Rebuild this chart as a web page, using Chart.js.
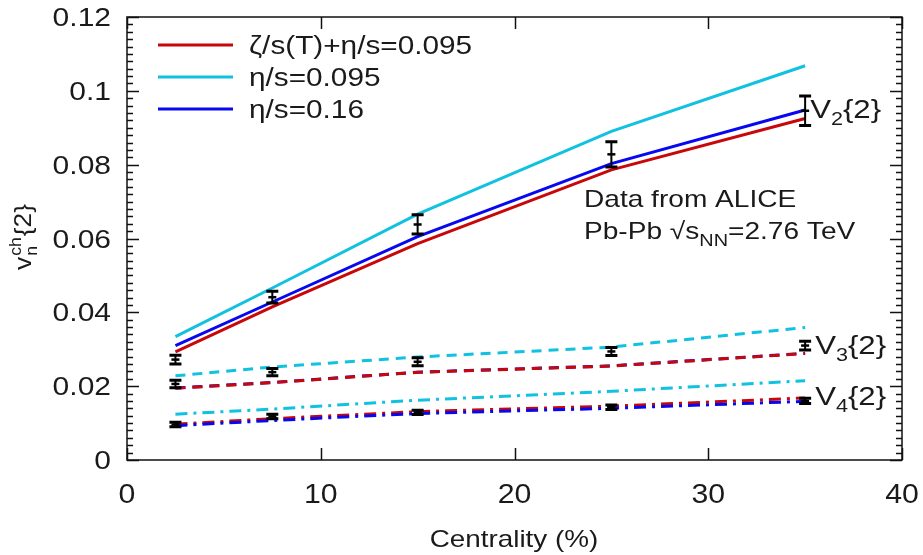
<!DOCTYPE html>
<html>
<head>
<meta charset="utf-8">
<script src="https://cdn.jsdelivr.net/npm/chart.js@4.4.1/dist/chart.umd.min.js"></script>
<style>
  body { margin: 0; background: #fff; }
  #wrap { width: 923px; height: 555px; }
</style>
</head>
<body>
<div id="wrap"><canvas id="flowChart" width="923" height="555"></canvas></div>
<script>
// centrality bins (%)
var centrality = [2.5, 7.5, 15, 25, 35];

// v2{2} curves
var v2Bulk   = [0.0293, 0.0415, 0.0586, 0.0786, 0.0925];
var v2Eta095 = [0.0334, 0.0466, 0.0666, 0.0890, 0.1068];
var v2Eta016 = [0.0310, 0.0428, 0.0605, 0.0803, 0.0948];

// v3{2} curves
var v3Bulk   = [0.01945, 0.02095, 0.02375, 0.02545, 0.02885];
var v3Eta095 = [0.0228, 0.0252, 0.0279, 0.0306, 0.0359];
var v3Eta016 = [0.0195, 0.0210, 0.0238, 0.0255, 0.0289];

// v4{2} curves
var v4Bulk   = [0.0097, 0.0112, 0.0131, 0.0146, 0.0168];
var v4Eta095 = [0.0124, 0.0138, 0.0162, 0.0186, 0.0215];
var v4Eta016 = [0.0093, 0.0107, 0.0126, 0.0140, 0.0159];

// ALICE data points and errors
var v2Data = [0.0272, 0.0441, 0.0638, 0.0828, 0.0946];
var v2Err  = [0.0012, 0.0016, 0.0026, 0.0034, 0.0040];
var v3Data = [0.0206, 0.0238, 0.0266, 0.0294, 0.0310];
var v3Err  = [0.0010, 0.0010, 0.0011, 0.0011, 0.0012];
var v4Data = [0.0096, 0.0118, 0.0129, 0.0143, 0.0160];
var v4Err  = [0.0006, 0.0006, 0.0006, 0.0006, 0.0007];

var yTicks = [0, 0.02, 0.04, 0.06, 0.08, 0.1, 0.12];
var yTickLabels = ['0', '0.02', '0.04', '0.06', '0.08', '0.1', '0.12'];
var xTicks = [0, 10, 20, 30, 40];
var xTickLabels = ['0', '10', '20', '30', '40'];

var legendLabels = ['ζ/s(T)+η/s=0.095', 'η/s=0.095', 'η/s=0.16'];

var RED = '#c80808', CYAN = '#10c2e0', BLUE = '#0808f0';
var FONT = "'Liberation Sans', Arial, sans-serif";
var TXT = '#1a1a1a';

function pts(ys) {
    return centrality.map(function (x, i) { return { x: x, y: ys[i] } });
}

function curve(ys, color, dash) {
    return {
        data: pts(ys),
        borderColor: color,
        backgroundColor: color,
        borderWidth: 3,
        borderDash: dash,
        pointRadius: 0,
        showLine: true,
        fill: false,
        tension: 0
    }
}

var DASH = [10, 7];
var DASHDOT = [12, 6, 3, 6];

var datasets = [
    curve(v2Eta095, CYAN, []),
    curve(v2Eta016, BLUE, []),
    curve(v2Bulk, RED, []),
    curve(v3Eta095, CYAN, DASH),
    curve(v3Bulk, RED, DASH),
    curve(v3Eta016, BLUE, DASH),
    curve(v4Eta095, CYAN, DASHDOT),
    curve(v4Eta016, BLUE, DASHDOT),
    curve(v4Bulk, RED, DASHDOT)
];

// text, horizontally stretched a bit like the original figure
function txt(ctx, s, x, y, size, align, stretch) {
    ctx.save();
    ctx.font = size + 'px ' + FONT;
    var w = ctx.measureText(s).width * stretch;
    var x0 = align == 'center' ? x - w / 2 : (align == 'right' ? x - w : x);
    ctx.translate(x0, y);
    ctx.scale(stretch, 1);
    ctx.textAlign = 'left';
    ctx.fillText(s, 0, 0);
    ctx.restore();
    return w;
}

// parts = [[text, 'n'|'sub'|'sup'], ...]
function drawRich(ctx, parts, x, y, size, stretch) {
    var cx = x;
    parts.forEach(function (p) {
        var s = p[1] == 'n' ? size : Math.round(size * 0.7);
        var dy = p[1] == 'sub' ? size * 0.28 : (p[1] == 'sup' ? -size * 0.4 : 0);
        cx += txt(ctx, p[0], cx, y + dy, s, 'left', stretch);
    });
}

var decorPlugin = {
    id: 'decor',
    afterDraw: function (chart) {
        var ctx = chart.ctx;
        var a = chart.chartArea;
        var xs = chart.scales.x, ys = chart.scales.y;
        ctx.save();

        // frame
        ctx.strokeStyle = '#111';
        ctx.lineWidth = 1.5;
        ctx.strokeRect(a.left, a.top, a.right - a.left, a.bottom - a.top);

        // inward ticks
        ctx.beginPath();
        xTicks.forEach(function (v) {
            var px = Math.round(xs.getPixelForValue(v)) + 0.5;
            ctx.moveTo(px, a.bottom); ctx.lineTo(px, a.bottom - 12);
            ctx.moveTo(px, a.top); ctx.lineTo(px, a.top + 12);
        });
        for (var k = 0; k <= 60; k++) {
            var v = k * 0.002;
            var py = Math.round(ys.getPixelForValue(v)) + 0.5;
            var len = k % 10 == 0 ? 12 : 6;
            ctx.moveTo(a.left, py); ctx.lineTo(a.left + len, py);
            ctx.moveTo(a.right, py); ctx.lineTo(a.right - len, py);
        }
        ctx.stroke();

        // tick labels
        ctx.fillStyle = TXT;
        ctx.textBaseline = 'alphabetic';
        yTicks.forEach(function (v, i) {
            txt(ctx, yTickLabels[i], a.left - 16, ys.getPixelForValue(v) + 9, 25, 'right', 1.2);
        });
        xTicks.forEach(function (v, i) {
            txt(ctx, xTickLabels[i], xs.getPixelForValue(v), a.bottom + 43, 27, 'center', 1.12);
        });

        // axis title
        txt(ctx, 'Centrality (%)', 514, a.bottom + 87, 24, 'center', 1.16);

        // error bars
        ctx.strokeStyle = '#000';
        [[v2Data, v2Err], [v3Data, v3Err], [v4Data, v4Err]].forEach(function (set) {
            centrality.forEach(function (c, i) {
                var px = xs.getPixelForValue(c);
                var yt = ys.getPixelForValue(set[0][i] + set[1][i]);
                var yb = ys.getPixelForValue(set[0][i] - set[1][i]);
                var yc = ys.getPixelForValue(set[0][i]);
                ctx.lineWidth = 2;
                ctx.beginPath();
                ctx.moveTo(px, yt); ctx.lineTo(px, yb);
                ctx.stroke();
                ctx.lineWidth = 3;
                ctx.beginPath();
                ctx.moveTo(px - 6, yt); ctx.lineTo(px + 6, yt);
                ctx.moveTo(px - 6, yb); ctx.lineTo(px + 6, yb);
                ctx.stroke();
                ctx.lineWidth = 2.5;
                ctx.beginPath();
                ctx.moveTo(px - 4, yc); ctx.lineTo(px + 4, yc);
                ctx.stroke();
            });
        });

        // legend
        var legColors = [RED, CYAN, BLUE];
        legendLabels.forEach(function (t, i) {
            var ly = a.top + 28 + i * 32;
            ctx.strokeStyle = legColors[i];
            ctx.lineWidth = 3;
            ctx.beginPath();
            ctx.moveTo(a.left + 31, ly); ctx.lineTo(a.left + 106, ly);
            ctx.stroke();
            txt(ctx, t, a.left + 122, ly + 9, 25, 'left', 1.19);
        });

        // series labels
        var lx = xs.getPixelForValue(35) + 5;
        drawRich(ctx, [['V', 'n'], ['2', 'sub'], ['{2}', 'n']], lx, ys.getPixelForValue(v2Data[4]) + 7, 26, 1.2);
        drawRich(ctx, [['V', 'n'], ['3', 'sub'], ['{2}', 'n']], lx + 5, ys.getPixelForValue(v3Data[4]) + 8, 26, 1.2);
        drawRich(ctx, [['V', 'n'], ['4', 'sub'], ['{2}', 'n']], lx + 5, ys.getPixelForValue(v4Data[4]) + 4, 26, 1.2);

        // annotation
        txt(ctx, 'Data from ALICE', 584, 207, 24, 'left', 1.17);
        drawRich(ctx, [['Pb-Pb √s', 'n'], ['NN', 'sub'], ['=2.76 TeV', 'n']], 584, 239, 24, 1.17);

        // y title (rotated)
        ctx.translate(31, 238);
        ctx.rotate(-Math.PI / 2);
        ctx.font = '24px ' + FONT;
        var w0 = ctx.measureText('v').width * 1.1;
        ctx.font = '16px ' + FONT;
        var w1 = ctx.measureText('ch').width * 1.1;
        ctx.font = '24px ' + FONT;
        var w2 = ctx.measureText('{2}').width * 1.1;
        var sx = -(w0 + w1 + w2) / 2;
        txt(ctx, 'v', sx, 0, 24, 'left', 1.1);
        txt(ctx, 'ch', sx + w0 + 1, -10, 16, 'left', 1.1);
        txt(ctx, 'n', sx + w0 + 1, 6, 16, 'left', 1.1);
        txt(ctx, '{2}', sx + w0 + w1 + 2, 0, 24, 'left', 1.1);

        ctx.restore();
    }
}

new Chart(document.getElementById('flowChart').getContext('2d'), {
    type: 'scatter',
    data: { datasets: datasets },
    options: {
        responsive: false,
        animation: false,
        devicePixelRatio: 1,
        layout: { padding: { top: 17, right: 21, left: 0, bottom: 0 } },
        plugins: { legend: { display: false }, tooltip: { enabled: false } },
        scales: {
            x: {
                type: 'linear',
                min: 0,
                max: 40,
                afterFit: function (s) { s.height = 95 },
                grid: { display: false },
                border: { display: false },
                ticks: { display: false }
            },
            y: {
                type: 'linear',
                min: 0,
                max: 0.12,
                afterFit: function (s) { s.width = 127 },
                grid: { display: false },
                border: { display: false },
                ticks: { display: false }
            }
        }
    },
    plugins: [decorPlugin]
})
</script>
</body>
</html>
